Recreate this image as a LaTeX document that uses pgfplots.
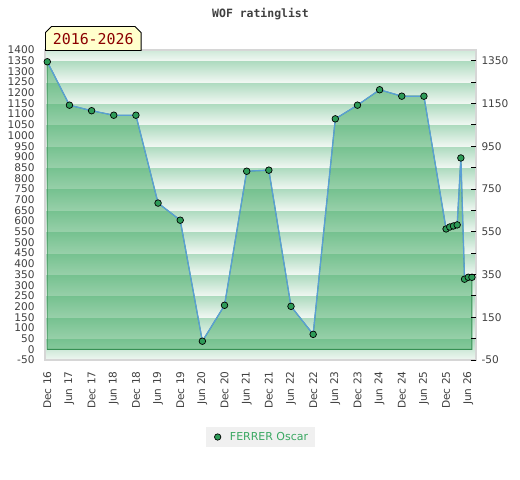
\documentclass[border=0pt]{standalone}
\usepackage{fontspec}
\setmainfont{DejaVu Sans}
\newfontfamily\monofont{DejaVu Sans Mono}
\usepackage{pgfplots}
\usepackage{pgfplotstable}
\pgfplotsset{compat=1.18}
\usetikzlibrary{shapes.misc}

\definecolor{bandtop}{HTML}{ACDABE}
\definecolor{bandbot}{HTML}{F0F7F2}
\definecolor{framegray}{HTML}{D6D6D6}
\definecolor{areagreen}{HTML}{40AA62}
\definecolor{linblue}{HTML}{5A9FD6}
\definecolor{markgreen}{HTML}{2E9B58}
\definecolor{legtext}{HTML}{3AA862}
\definecolor{legbg}{HTML}{F0F0F0}
\definecolor{yearred}{HTML}{8B0000}
\definecolor{yearbg}{HTML}{FFFFCC}
\definecolor{ticktext}{HTML}{404040}

% months since Dec 2016, rating
\pgfplotstableread{
m r
0 1345
6 1142
12 1116
18 1095
24 1095
30 684
36 604
42 38
48 206
54 833
60 838
66 201
72 70
78 1078
84 1142
90 1214
96 1184
102 1184
108 563
109 572
110 577
111 582
112 895
113 328
114 337
115 337
}\ratings

\pgfplotsset{
  base/.style={at={(0,0)}, anchor=south west, scale only axis,
    width=431bp, height=310bp,
    xmin=-0.62, xmax=116.1, ymin=-50, ymax=1400,
    /pgf/number format/assume math mode=true,
    /pgf/number format/set thousands separator={},
    tick label style={font=\fontsize{10.6}{12}\selectfont, text=ticktext},
  },
}

\begin{document}
\begin{tikzpicture}
\path[use as bounding box] (-45bp,-120bp) rectangle (475bp,360bp);
\begin{axis}[base, name=main,
  axis on top,
  axis line style={framegray, line width=1.2bp},
  major tick length=0pt,
  ytick={-50,0,...,1400},
  yticklabel style={xshift=-7bp},
  xtick={0,6,...,114},
  xticklabels={Dec 16,Jun 17,Dec 17,Jun 18,Dec 18,Jun 19,Dec 19,Jun 20,Dec 20,Jun 21,
    Dec 21,Jun 22,Dec 22,Jun 23,Dec 23,Jun 24,Dec 24,Jun 25,Dec 25,Jun 26},
  xticklabel style={rotate=90, anchor=east, xshift=-8bp},
  legend style={at={(0.5,-0.2484)}, anchor=center, fill=legbg, draw=none,
    font=\fontsize{11}{13}\selectfont, text=legtext, inner xsep=5bp, inner ysep=3bp},
  legend image code/.code={
    \path[draw=none] (0bp,0bp) -- (17bp,0bp);
    \path[draw=none, mark=*, mark size=3.2bp,
    mark options={fill=markgreen, draw=black, line width=0.7bp}] plot coordinates {(6.7bp,0bp)};},
]
\pgfplotsinvokeforeach{0,...,14}{
  \fill[top color=bandtop, bottom color=bandbot] (axis cs:-5,{100*#1+50}) rectangle (axis cs:120,{100*#1-50});
  \draw[framegray, line width=0.8bp] (axis cs:-5,{100*#1+52}) -- (axis cs:120,{100*#1+52});
}
\addplot[draw=areagreen!85!black, line width=0.9bp, fill=areagreen, fill opacity=0.5, forget plot]
  table[x=m, y=r] {\ratings} \closedcycle;
\addplot[linblue, line width=1.3bp, mark=*, mark size=3.3bp,
  mark options={fill=markgreen, draw=black, line width=0.7bp}]
  table[x=m, y=r] {\ratings};
\legend{FERRER Oscar}
\end{axis}
\begin{axis}[base,
  hide x axis, axis y line*=right, axis line style={draw=none},
  ytick={-50,150,...,1350}, minor ytick={50,250,...,1250},
  yticklabel style={xshift=2bp},
  tick align=inside, major tick length=5bp, minor tick length=5bp,
  every tick/.style={black, line width=0.9bp},
]
\end{axis}
\node[font=\monofont\bfseries\fontsize{11.5}{13}\selectfont, text=ticktext]
  at ([yshift=36bp]main.north) {WOF ratinglist};
\node[chamfered rectangle, chamfered rectangle corners={north west,north east},
  chamfered rectangle sep=3bp, draw=black, line width=0.8bp, fill=yearbg,
  minimum width=95.7bp, minimum height=24bp, inner sep=0pt, anchor=south west,
  font=\monofont\fontsize{15}{16}\selectfont, text=yearred]
  at ([yshift=-1bp]main.north west) {2016-2026};
\end{tikzpicture}
\end{document}
